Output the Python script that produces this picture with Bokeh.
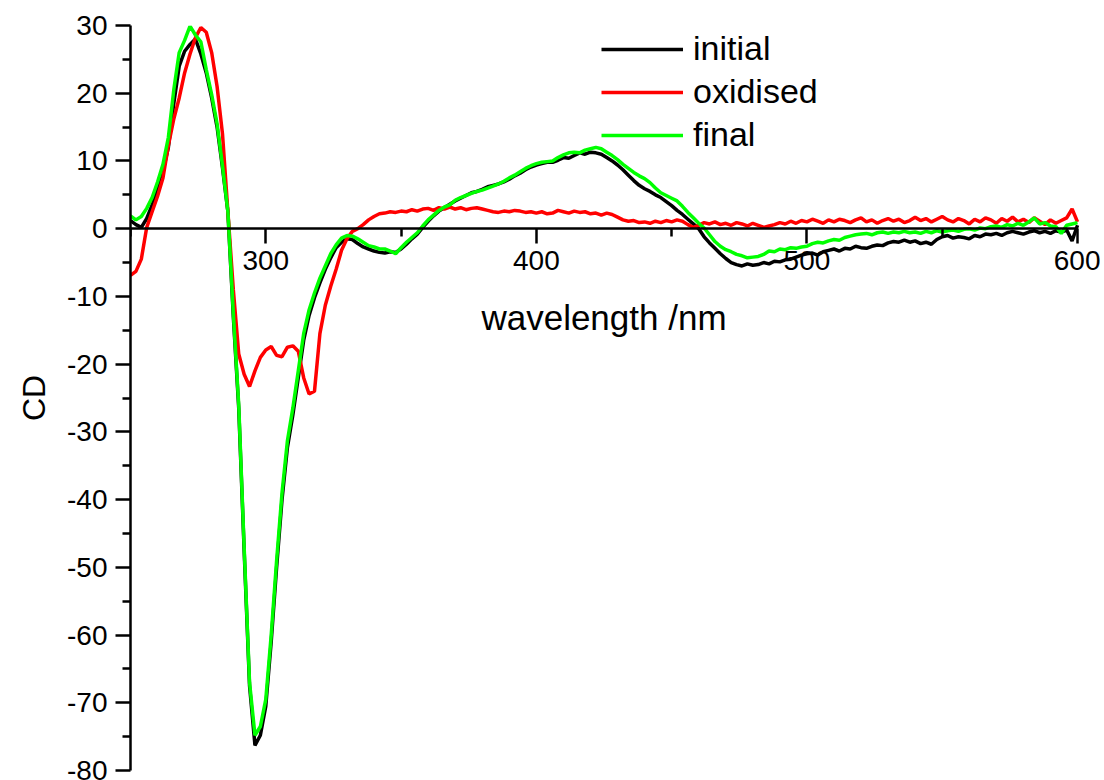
from bokeh.plotting import figure
from bokeh.models import Range1d, FixedTicker, Legend, LegendItem
from bokeh.embed import file_html
from bokeh.resources import INLINE

# wavelength grid (nm), 2 nm steps
wavelength = list(range(250, 601, 2))

initial = [
    1.2, 0.6, 0.2, 1.5, 3.5, 5.8, 8.5, 12.0, 18.5, 24.0,
    26.2, 27.2, 28.0, 25.8, 23.0, 19.3, 15.0, 9.0, 2.5, -13.0,
    -26.5, -47.5, -67.5, -76.3, -74.8, -70.5, -61.0, -50.0, -40.0, -32.3,
    -27.5, -22.0, -16.5, -12.8, -10.2, -8.0, -6.0, -4.3, -2.8, -2.0,
    -1.5, -1.6, -2.2, -2.7, -3.0, -3.3, -3.5, -3.6, -3.4, -3.5,
    -3.0, -2.3, -1.5, -0.8, 0.2, 1.1, 1.9, 2.6, 3.1, 3.6,
    4.1, 4.5, 4.9, 5.3, 5.5, 5.8, 6.2, 6.4, 6.6, 6.9,
    7.3, 7.8, 8.2, 8.7, 9.1, 9.4, 9.6, 9.8, 9.8, 10.1,
    10.5, 10.4, 10.8, 11.2, 11.0, 11.3, 11.2, 11.0, 10.5, 10.0,
    9.4, 8.7, 7.9, 7.1, 6.4, 5.9, 5.5, 5.0, 4.6, 4.0,
    3.4, 2.7, 2.1, 1.4, 0.7, 0.0, -1.2, -2.1, -2.9, -3.7,
    -4.4, -5.0, -5.3, -5.5, -5.2, -5.4, -5.3, -5.0, -5.2, -4.8,
    -4.9, -4.6, -4.5, -4.2, -3.9, -3.7, -3.6, -3.9, -3.4, -3.2,
    -3.0, -3.3, -2.9, -3.0, -2.6, -2.8, -2.9, -2.6, -2.4, -2.5,
    -2.1, -1.9, -2.0, -1.7, -2.0, -1.8, -2.2, -2.0, -2.3, -1.6,
    -1.2, -1.0, -1.4, -1.2, -1.3, -1.5, -1.0, -1.2, -0.8, -0.9,
    -0.7, -1.0, -0.6, -0.4, -0.6, -0.8, -0.5, -0.3, -0.6, -0.4,
    -0.7, -0.3, -0.5, -0.2, -1.8, 0.5,
]

oxidised = [
    -6.9, -6.3, -4.5, 0.2, 2.5, 4.8, 7.5, 12.3, 16.2, 19.3,
    23.0, 25.8, 28.2, 29.7, 29.0, 26.0, 21.0, 14.0, 2.5, -9.0,
    -18.5, -21.5, -23.3, -21.0, -19.0, -17.9, -17.4, -18.7, -18.9, -17.5,
    -17.3, -18.1, -22.0, -24.4, -24.0, -15.5, -11.3, -8.5, -6.0, -3.2,
    -1.5, -0.4, 0.0, 0.6, 1.3, 1.8, 2.2, 2.3, 2.5, 2.4,
    2.6, 2.5, 2.8, 2.6, 2.9, 3.0, 2.7, 3.1, 2.9, 3.2,
    2.9, 3.1, 2.8, 3.0, 3.1, 2.9, 2.7, 2.5, 2.4, 2.6,
    2.5, 2.7, 2.6, 2.4, 2.5, 2.3, 2.5, 2.2, 2.3, 2.7,
    2.5, 2.3, 2.6, 2.4, 2.5, 2.2, 2.3, 2.0, 2.3, 2.1,
    1.7, 1.3, 1.1, 1.2, 0.9, 1.0, 0.8, 1.1, 0.9, 1.2,
    1.0, 1.3, 1.1, 0.6, 0.2, 0.5, 0.9, 0.7, 1.0, 0.6,
    0.8, 0.5, 0.9, 0.7, 0.4, 0.8, 0.5, 0.2, 0.4, 0.6,
    0.9, 0.7, 1.1, 0.8, 1.2, 1.0, 1.4, 1.1, 0.8, 1.3,
    1.0, 1.4, 1.2, 0.9, 1.3, 1.6, 1.0, 1.3, 0.8, 1.2,
    1.5, 1.1, 1.4, 0.9, 1.2, 1.7, 1.2, 1.5, 1.0, 1.4,
    1.8, 1.3, 1.0, 1.5, 1.2, 0.7, 1.4, 1.0, 1.6, 1.3,
    0.8, 1.5, 1.1, 1.7, 1.0, 1.4, 0.9, 1.6, 1.1, 0.6,
    1.3, 0.8, 1.2, 1.6, 2.9, 1.0,
]

final = [
    1.9, 1.3, 1.8, 3.0, 4.6, 6.9, 9.5, 13.5, 20.5, 26.0,
    27.8, 29.9, 28.6, 27.6, 23.5, 19.8, 15.5, 9.3, 2.5, -12.5,
    -26.0, -47.0, -67.0, -74.8, -73.5, -69.5, -60.0, -49.0, -39.0, -31.3,
    -26.5, -21.0, -15.5, -12.0, -9.5, -7.3, -5.5, -3.7, -2.4, -1.4,
    -1.0, -1.1, -1.5, -2.0, -2.5, -2.7, -3.0, -3.0, -3.3, -3.7,
    -2.8, -2.0, -1.3, -0.6, 0.4, 1.3, 2.0, 2.7, 3.2, 3.5,
    4.2, 4.6, 4.9, 5.2, 5.5, 5.7, 6.0, 6.3, 6.6, 7.0,
    7.5, 7.9, 8.4, 8.9, 9.3, 9.6, 9.8, 9.9, 10.0, 10.5,
    10.9, 11.2, 11.3, 11.2, 11.6, 11.8, 12.0, 11.8, 11.3, 10.8,
    10.2, 9.5, 8.9, 8.3, 7.8, 7.4, 6.8, 6.0, 5.3, 4.9,
    4.5, 4.1, 3.3, 2.4, 1.6, 0.8, 0.1, -0.9, -1.9, -2.6,
    -3.1, -3.4, -3.8, -4.0, -4.3, -4.2, -4.1, -3.8, -3.3, -3.4,
    -3.0, -3.1, -2.8, -2.9, -2.7, -2.6, -2.2, -2.0, -2.1, -1.8,
    -1.6, -1.7, -1.3, -1.1, -0.9, -0.8, -0.7, -0.9, -0.6, -0.5,
    -0.7, -0.5, -0.6, -0.4, -0.6, -0.5, -0.7, -0.4, -0.6, -0.3,
    -0.5, -0.3, -0.2, -0.4, -0.1, 0.0, -0.2, 0.1, 0.0, 0.3,
    0.4, 0.2, 0.6, 0.4, 0.8, 0.5, 1.0, 1.6, 0.7, 0.9,
    0.4, 0.3, -0.7, 0.5, 0.7, 0.9,
]

series_names = ["initial", "oxidised", "final"]
series_colors = ["#000000", "#FF0000", "#00FF00"]

x_ticks = [300, 400, 500, 600]
x_minor = [250, 350, 450, 550]
x_start, x_end = 250, 600
y_ticks = [-80, -70, -60, -50, -40, -30, -20, -10, 0, 10, 20, 30]
y_minor = [-75, -65, -55, -45, -35, -25, -15, -5, 5, 15, 25]
y_tick_labels = ["-80", "-70", "-60", "-50", "-40", "-30", "-20", "-10", "0", "10", "20", "30"]

FONT = "Liberation Sans"

# frame: 130..1100 px wide (970 px), 25..770 px high (745 px)
p = figure(width=1100, height=780, output_backend="svg", toolbar_location=None,
           x_range=Range1d(250, 608.5), y_range=Range1d(-80, 30),
           min_border_left=130, min_border_right=0, min_border_top=25, min_border_bottom=10)
p.outline_line_color = None
p.xgrid.visible = False
p.ygrid.visible = False
p.background_fill_color = "white"

renderers = []
for data, color in zip([initial, oxidised, final], series_colors):
    r = p.line(wavelength, data, line_color=color, line_width=3.5)
    renderers.append(r)

# x axis crossing at zero, spanning only the data range
xa = p.xaxis[0]
xa.fixed_location = 0
xa.bounds = (x_start, x_end)
xa.ticker = FixedTicker(ticks=x_ticks, minor_ticks=x_minor)
xa.axis_label = "wavelength /nm"
xa.axis_label_text_font = FONT
xa.axis_label_text_font_size = "35px"
xa.axis_label_text_font_style = "normal"
xa.axis_label_text_color = "black"
xa.axis_label_standoff = 25
xa.major_label_text_font = FONT
xa.major_label_text_font_size = "28px"
xa.major_label_text_color = "black"
xa.major_label_standoff = 7
xa.axis_line_width = 2.5
xa.major_tick_line_width = 2.5
xa.minor_tick_line_width = 2.5
xa.major_tick_in = 0
xa.major_tick_out = 15
xa.minor_tick_in = 0
xa.minor_tick_out = 8

ya = p.yaxis[0]
ya.ticker = FixedTicker(ticks=y_ticks, minor_ticks=y_minor)
ya.major_label_overrides = {t: l for t, l in zip(y_ticks, y_tick_labels)}
ya.axis_label = "CD"
ya.axis_label_text_font = FONT
ya.axis_label_text_font_size = "32px"
ya.axis_label_text_font_style = "normal"
ya.axis_label_text_color = "black"
ya.axis_label_standoff = 12
ya.major_label_text_font = FONT
ya.major_label_text_font_size = "28px"
ya.major_label_text_color = "black"
ya.major_label_standoff = 8
ya.axis_line_width = 2.5
ya.major_tick_line_width = 2.5
ya.minor_tick_line_width = 2.5
ya.major_tick_in = 0
ya.major_tick_out = 15
ya.minor_tick_in = 0
ya.minor_tick_out = 8

legend = Legend(items=[LegendItem(label=n, renderers=[r]) for n, r in zip(series_names, renderers)],
                location=(471, 616))
legend.label_text_font = FONT
legend.label_text_font_size = "34px"
legend.label_text_color = "black"
legend.glyph_width = 82
legend.glyph_height = 36
legend.label_height = 36
legend.spacing = 4
legend.padding = 0
legend.margin = 0
legend.label_standoff = 10
legend.border_line_alpha = 0
legend.background_fill_alpha = 0
p.add_layout(legend)

open("out.html", "w").write(file_html(p, INLINE))
